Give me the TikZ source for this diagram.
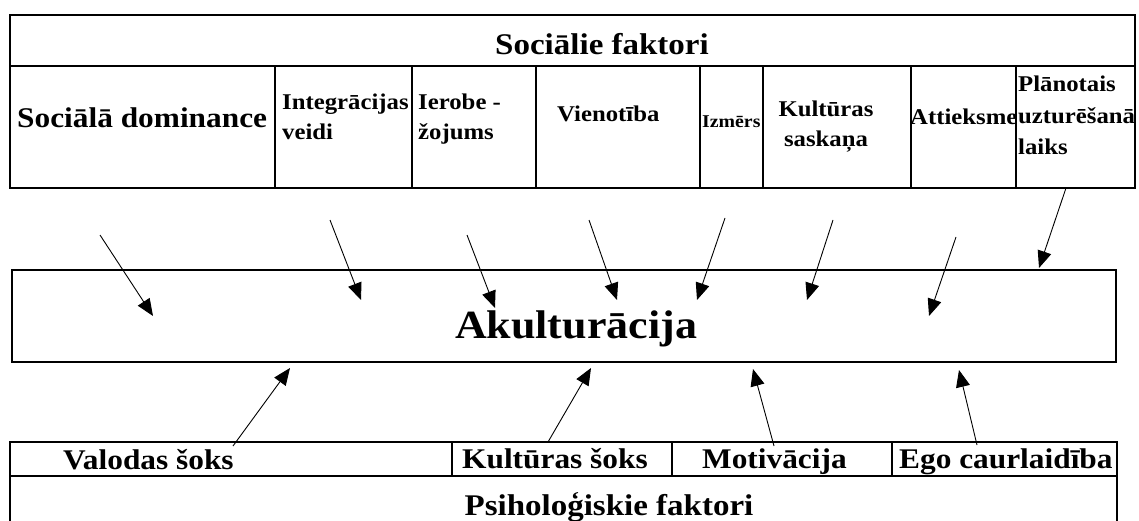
\documentclass[tikz,border=0pt]{standalone}
\usepackage{fontspec}
\setmainfont{Liberation Serif}[FakeStretch=1.1]
\usetikzlibrary{arrows.meta}
\tikzset{
  rule/.style={line width=2.2pt},
  thickrule/.style={line width=2.8pt},
  cell/.style={inner sep=0pt, anchor=base west, align=left, font=\bfseries\fontsize{22.5}{30}\selectfont},
  big/.style={inner sep=0pt, anchor=base, font=\bfseries\fontsize{30}{34}\selectfont},
  arr/.style={line width=0.9pt, -{Triangle[length=17pt,width=14pt]}},
}

\begin{document}
\begin{tikzpicture}[x=1pt,y=-1pt]
\useasboundingbox (0,0) rectangle (1139,521);

%%% tables

% social factors
\draw[thickrule] (10,15) rectangle (1135,188);
\draw[line width=1.6pt] (10,66) -- (1135,66);
\draw[rule] (275,66) -- (275,188);
\draw[rule] (412,66) -- (412,188);
\draw[rule] (536,66) -- (536,188);
\draw[rule] (700,66) -- (700,188);
\draw[rule] (763,66) -- (763,188);
\draw[rule] (911,66) -- (911,188);
\draw[rule] (1016,66) -- (1016,188);

% (multi-line cells sit on the baseline of their last line)
\node[big] (soc) at (602,55) {Sociālie faktori};
\node[cell, font=\bfseries\fontsize{28.5}{32}\selectfont] (dom) at (17,128) {Sociālā dominance};
\node[cell] (integr) at (282,140) {Integrācijas\\veidi};
\node[cell] (ierob) at (418,140) {Ierobe -\\žojums};
\node[cell] (vienot) at (557,122) {Vienotība};
\node[cell, font=\bfseries\fontsize{18}{22}\selectfont] (izmers) at (702,128) {Izmērs};
\node[cell, anchor=base, align=center] (saskana) at (826,147) {Kultūras\\saskaņa};
\node[cell] (attiek) at (910,125) {Attieksme};
\node[cell, font=\bfseries\fontsize{22.5}{31.5}\selectfont] (laiks) at (1018,155) {Plānotais\\uzturēšanā\\laiks};

% acculturation
\draw[rule] (12,270) rectangle (1116,362);
\node[big, font=\bfseries\fontsize{40}{44}\selectfont] (akult) at (576,338) {Akulturācija};

% psychological factors
\draw[thickrule] (10,521) -- (10,442) -- (1117,442) -- (1117,521);
\draw[rule] (10,476) -- (1117,476);
\draw[rule] (452,442) -- (452,476);
\draw[rule] (672,442) -- (672,476);
\draw[rule] (892,442) -- (892,476);

\node[cell, font=\bfseries\fontsize{28.5}{32}\selectfont] (valoda) at (63,469) {Valodas šoks};
\node[cell, font=\bfseries\fontsize{28.5}{32}\selectfont] (kultsok) at (462,468) {Kultūras šoks};
\node[cell, font=\bfseries\fontsize{28.5}{32}\selectfont] (motiv) at (702,468) {Motivācija};
\node[cell, font=\bfseries\fontsize{28.5}{32}\selectfont] (ego) at (899,468) {Ego caurlaidība};
\node[big] (psih) at (609,515) {Psiholoģiskie faktori};

%%% arrows

% from above
\coordinate (s1) at (100,235); \coordinate (t1) at (153,316);
\coordinate (s2) at (330,220); \coordinate (t2) at (361,300);
\coordinate (s3) at (467,235); \coordinate (t3) at (495,308);
\coordinate (s4) at (589,220); \coordinate (t4) at (617,300);
\coordinate (s5) at (725,218); \coordinate (t5) at (697,300);
\coordinate (s6) at (833,220); \coordinate (t6) at (807,300);
\coordinate (s7) at (956,237); \coordinate (t7) at (929,316);
\coordinate (s8) at (1066,188); \coordinate (t8) at (1039,268);
\draw[arr] (s1) -- (t1);
\draw[arr] (s2) -- (t2);
\draw[arr] (s3) -- (t3);
\draw[arr] (s4) -- (t4);
\draw[arr] (s5) -- (t5);
\draw[arr] (s6) -- (t6);
\draw[arr] (s7) -- (t7);
\draw[arr] (s8) -- (t8);

% from below
\coordinate (u1) at (233,446); \coordinate (v1) at (290,368);
\coordinate (u2) at (548,442); \coordinate (v2) at (591,368);
\coordinate (u3) at (774,446); \coordinate (v3) at (753,369);
\coordinate (u4) at (977,445); \coordinate (v4) at (959,370);
\draw[arr] (u1) -- (v1);
\draw[arr] (u2) -- (v2);
\draw[arr] (u3) -- (v3);
\draw[arr] (u4) -- (v4);

\end{tikzpicture}
\end{document}
